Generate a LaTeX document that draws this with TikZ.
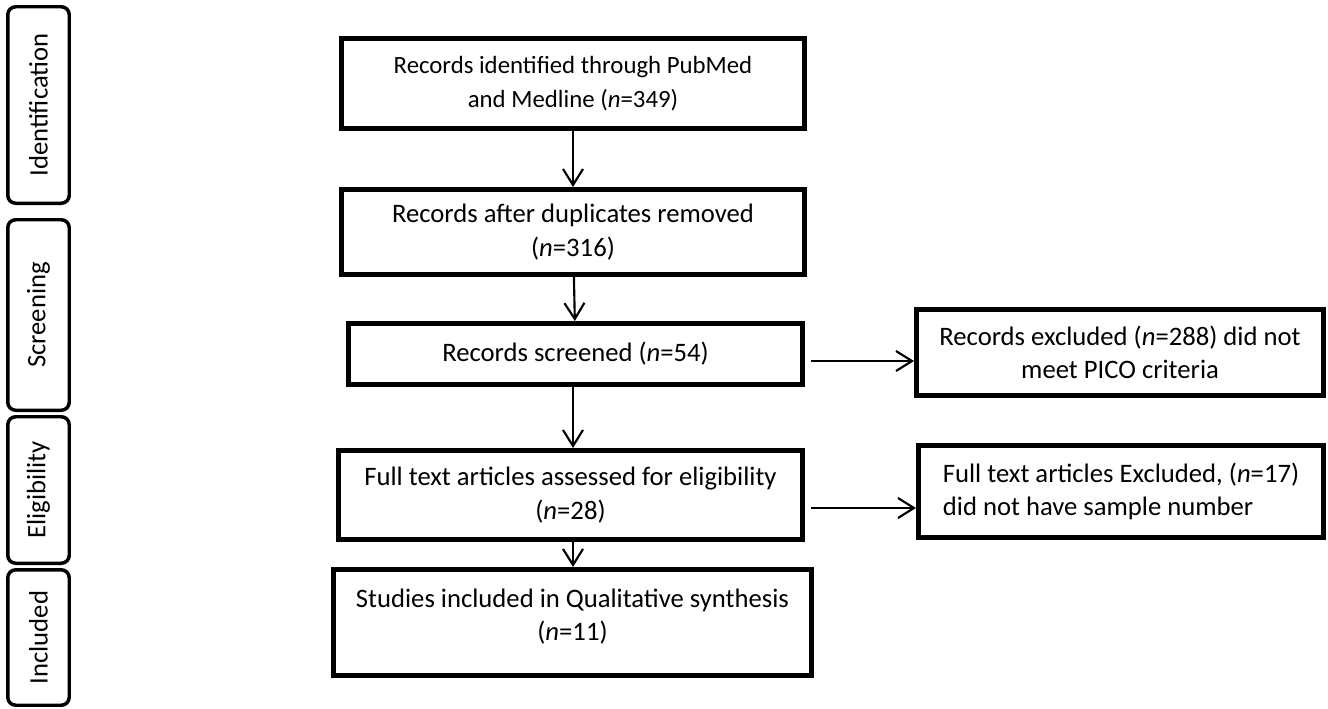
\documentclass[tikz,border=0pt]{standalone}
\usepackage{fontspec}
\setmainfont{Carlito}
\usetikzlibrary{arrows.meta}

\tikzset{every picture/.style={line width=0.75pt}}
\tikzset{
  stagebox/.style={draw, line width=4.1pt, inner sep=0pt, align=center, font=\fontsize{20}{25}\selectfont},
  phasebox/.style={draw, line width=2.6pt, rounded corners=6pt, rotate=90, inner sep=0pt, minimum height=46.1pt, font=\fontsize{20}{22}\selectfont},
  flow/.style={line width=1.6pt, -{Straight Barb[length=12pt,width=15pt]}}
}

\begin{document}
\begin{tikzpicture}[x=0.75pt,y=0.75pt,yscale=-1,xscale=1]
\useasboundingbox (0,0) rectangle (1328,708);

% Phase labels
\node (ident) at (38.5,105) [phasebox, minimum width=147.4pt] {Identification};
\node (screen) at (38.5,315) [phasebox, minimum width=142.9pt] {Screening};
\node (elig) at (38.5,490) [phasebox, minimum width=109.9pt] {Eligibility};
\node (incl) at (38.5,637.5) [phasebox, minimum width=101.6pt] {Included};

% Main column
\node (found) at (573,83.5) [stagebox, font=\fontsize{18.6}{25}\selectfont, minimum width=346.9pt, minimum height=67.2pt] {Records identified through PubMed\\and Medline (\textit{n}=349)};
\node (dedup) at (573,232) [stagebox, minimum width=346.9pt, minimum height=63.4pt] {Records after duplicates removed\\(\textit{n}=316)};
\node (screened) at (575.5,354) [stagebox, minimum width=340.2pt, minimum height=45.4pt] {Records screened (\textit{n}=54)};
\node (fulltext) at (570.5,495) [stagebox, minimum width=347.7pt, minimum height=66.4pt] {Full text articles assessed for eligibility\\(\textit{n}=28)};
\node (studies) at (572.5,622.5) [stagebox, minimum width=358.2pt, minimum height=79.2pt] {Studies included in Qualitative synthesis\\(\textit{n}=11)\\[-13pt]\mbox{}};

% Exclusions
\node (excl) at (1120,352.5) [stagebox, minimum width=304.9pt, minimum height=64.2pt] {Records excluded (\textit{n}=288) did not\\meet PICO criteria};
\node (exclft) at (1121,491.5) [stagebox, align=left, minimum width=303.4pt, minimum height=68.7pt] {Full text articles Excluded, (\textit{n}=17)\\did not have sample number};

%Straight Lines
\draw [flow] (found) -- (dedup);
\draw [flow] (dedup) -- (screened);
\draw [flow] (screened.south -| found) -- (fulltext.north -| found);
\draw [flow] (fulltext.south -| found) -- (studies.north -| found);

\coordinate (out1) at ([xshift=4.5pt,yshift=5.25pt]screened.east);
\coordinate (out2) at ([xshift=4.5pt,yshift=9.75pt]fulltext.east);
\draw [flow] (out1) -- (out1 -| excl.west);
\draw [flow] (out2) -- (out2 -| exclft.west);

\end{tikzpicture}
\end{document}
